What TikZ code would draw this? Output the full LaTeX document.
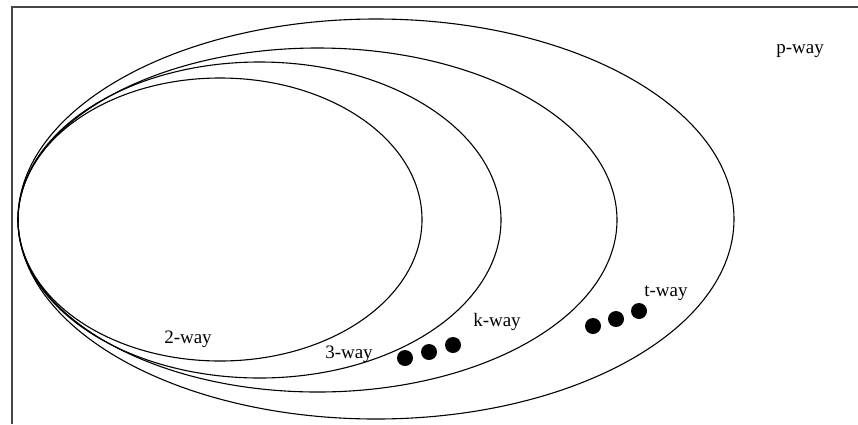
\documentclass[tikz,border=0pt]{standalone}
\usepackage{fontspec}
\setmainfont{Liberation Serif}
\definecolor{framegray}{RGB}{70, 70, 70}
\usetikzlibrary{positioning}

\begin{document}
\begin{tikzpicture}[
        x=1pt, y=-1pt,
        set/.style={draw=black, line width=1.1pt},
        lbl/.style={font=\fontsize{19}{21}\selectfont, inner sep=0pt},
        dot/.style={fill=black}
    ]
        \useasboundingbox (0,0) rectangle (858,424);
        % Frame (only top and left edges visible)
        \draw[framegray, line width=2pt] (858,7) -- (12,7) -- (12,424);
        % Nested sets
        \draw[set] (220,219.5) ellipse [x radius=202, y radius=141.5];
        \draw[set] (259.5,220) ellipse [x radius=241.5, y radius=158];
        \draw[set] (317.5,220) ellipse [x radius=299.5, y radius=172];
        \draw[set] (376,219) ellipse [x radius=358, y radius=200];
        % Labels
        \node[lbl] (two) at (188,339) {2-way};
        \node[lbl] (three) at (349,354) {3-way};
        \node[lbl] (k) at (497,322) {k-way};
        \node[lbl] (t) at (666,293) {t-way};
        \node[lbl] (p) at (800,51) {p-way};
        % Dots
        \foreach \x/\y in {405/358, 429/352, 453/345, 593/326, 616/319, 639/311}
            \fill[dot] (\x,\y) circle (8);
    \end{tikzpicture}
\end{document}
